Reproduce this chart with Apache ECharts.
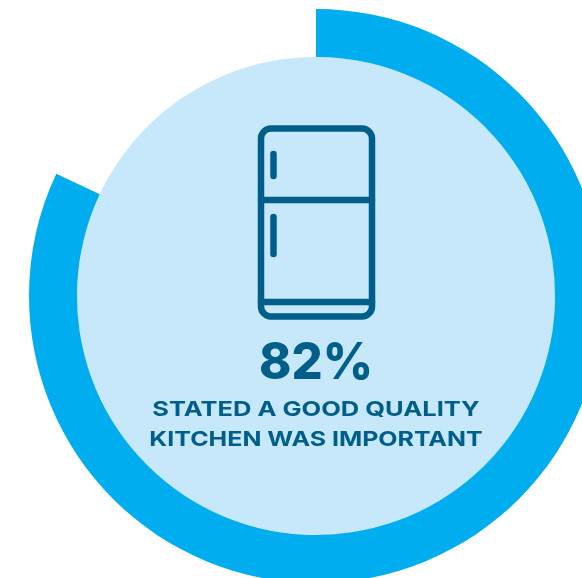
<!DOCTYPE html>
<html>
<head>
<meta charset="utf-8">
<style>html,body{margin:0;padding:0;background:#fff;overflow:hidden}#chart{width:582px;height:578px}</style>
<script src="https://cdn.jsdelivr.net/npm/echarts@6/dist/echarts.min.js"></script>
</head>
<body>
<div id="chart"></div>
<script>
// Share of respondents who rated a good quality kitchen as important
const shareImportant = 82;
const shareOther = 100 - shareImportant;
const headline = shareImportant + '%';
const captionLines = ['STATED A GOOD QUALITY', 'KITCHEN WAS IMPORTANT'];

const INK = '#005E8A';
const RING = '#00AEEF';
const DISC = '#C7E8FA';
const FONT = 'Inter, Lato, sans-serif';
const cx = 316, cy = 296;

const chart = echarts.init(document.getElementById('chart'), null, {renderer: 'canvas'});

// Fridge pictogram, drawn as outlined shapes above the pie layers
const line = {stroke: INK, lineWidth: 6.5, lineCap: 'round', fill: null};
const fridge = [
  {type: 'rect', z: 10, shape: {x: 261, y: 128.5, width: 111, height: 188, r: 10}, style: line},
  {type: 'line', z: 10, shape: {x1: 261, y1: 200, x2: 372, y2: 200}, style: line},
  {type: 'line', z: 10, shape: {x1: 261, y1: 302, x2: 372, y2: 302}, style: line},
  {type: 'line', z: 10, shape: {x1: 273.5, y1: 154, x2: 273.5, y2: 176}, style: line},
  {type: 'line', z: 10, shape: {x1: 273.5, y1: 217, x2: 273.5, y2: 254}, style: line}
];

// Caption lines are widened horizontally to get a broad geometric look
const captionText = (text, y, widen) => ({
  type: 'text', z: 10, x: cx, y: y, scaleX: widen,
  style: {text: text, fill: INK, font: '700 20.5px ' + FONT, align: 'center', verticalAlign: 'middle'}
});

chart.setOption({
  animation: false,
  backgroundColor: '#fff',
  series: [
    {
      type: 'pie', silent: true, center: [cx, cy], radius: [0, 239],
      label: {show: false}, labelLine: {show: false},
      data: [{value: 100, itemStyle: {color: DISC}}]
    },
    {
      type: 'pie', silent: true, center: [cx, cy], radius: [239, 287],
      startAngle: 90, clockwise: true,
      label: {show: false}, labelLine: {show: false},
      data: [
        {value: shareImportant, itemStyle: {color: RING}},
        {value: shareOther, itemStyle: {color: 'transparent'}}
      ]
    }
  ],
  graphic: [
    ...fridge,
    {type: 'text', z: 10, x: cx, y: 363.5, scaleX: 0.96, style: {text: headline, fill: INK, font: '800 51px ' + FONT, align: 'center', verticalAlign: 'middle'}},
    captionText(captionLines[0], 409.5, 1.243),
    captionText(captionLines[1], 439.5, 1.217)
  ]
});
</script>
</body>
</html>
